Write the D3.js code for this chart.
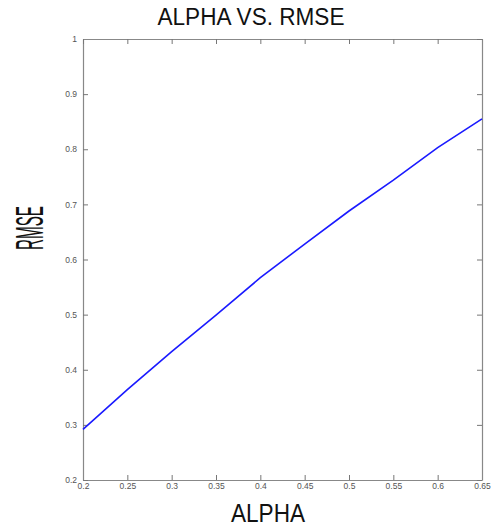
<!DOCTYPE html>
<html>
<head>
<meta charset="utf-8">
<script src="https://cdn.jsdelivr.net/npm/d3@7"></script>
<style>
  body { margin: 0; background: #fff; }
  svg { display: block; }
  .tick text { font-family: "Liberation Sans", Arial, sans-serif; font-size: 8.5px; fill: #555; }
</style>
</head>
<body>
<div id="chart"></div>
<script>
// alpha vs rmse values
var alphas = [0.2, 0.25, 0.3, 0.35, 0.4, 0.45, 0.5, 0.55, 0.6, 0.65]
var rmse = [0.292, 0.364, 0.433, 0.499, 0.567, 0.628, 0.688, 0.744, 0.803, 0.855]
var xTicks = [0.2, 0.25, 0.3, 0.35, 0.4, 0.45, 0.5, 0.55, 0.6, 0.65]
var yTicks = [0.2, 0.3, 0.4, 0.5, 0.6, 0.7, 0.8, 0.9, 1]

const svgWidth = 495
const svgHeight = 529
const margin = { top: 39, right: 13, bottom: 49, left: 83 }
const graphWidth = svgWidth - margin.left - margin.right
const graphHeight = svgHeight - margin.top - margin.bottom

var svg = d3.select('#chart').append('svg')
  .attr('width', svgWidth)
  .attr('height', svgHeight)

var graph = svg.append('g')
  .attr('transform', `translate(${margin.left}, ${margin.top})`)

const x = d3.scaleLinear().domain([0.2, 0.65]).range([0, graphWidth])
const y = d3.scaleLinear().domain([0.2, 1]).range([graphHeight, 0])

const fmt = d => String(+d.toFixed(2))

// bottom / left axes with labels, top / right with ticks only (all inward)
graph.append('g')
  .attr('transform', `translate(0, ${graphHeight})`)
  .call(d3.axisBottom(x).tickValues(xTicks).tickFormat(fmt).tickSizeInner(-5).tickSizeOuter(0).tickPadding(3))
graph.append('g')
  .call(d3.axisLeft(y).tickValues(yTicks).tickFormat(fmt).tickSizeInner(-5).tickSizeOuter(0).tickPadding(6))
graph.append('g')
  .call(d3.axisTop(x).tickValues(xTicks).tickFormat('').tickSizeInner(-5).tickSizeOuter(0))
graph.append('g')
  .attr('transform', `translate(${graphWidth}, 0)`)
  .call(d3.axisRight(y).tickValues(yTicks).tickFormat('').tickSizeInner(-5).tickSizeOuter(0))

graph.selectAll('.domain').attr('stroke', '#888').attr('stroke-width', 1.2)
graph.selectAll('.tick line').attr('stroke', '#777')

// curve
const line = d3.line()
  .x((d, i) => x(alphas[i]))
  .y(d => y(d))

graph.append('path')
  .datum(rmse)
  .attr('fill', 'none')
  .attr('stroke', '#1a1aff')
  .attr('stroke-width', 1.6)
  .attr('d', line)

// titles, squeezed like a narrow font
function label(txt, size, len) {
  return svg.append('text')
    .attr('text-anchor', 'middle')
    .attr('font-family', '"Liberation Sans", Arial, sans-serif')
    .attr('font-size', size)
    .attr('textLength', len)
    .attr('lengthAdjust', 'spacingAndGlyphs')
    .attr('fill', '#111')
    .text(txt)
}

label('ALPHA VS. RMSE', 23, 187).attr('x', 251).attr('y', 25)
label('ALPHA', 26, 74).attr('x', 268).attr('y', 522)
label('RMSE', 38, 44).attr('transform', 'translate(43, 228) rotate(-90)')
</script>
</body>
</html>
